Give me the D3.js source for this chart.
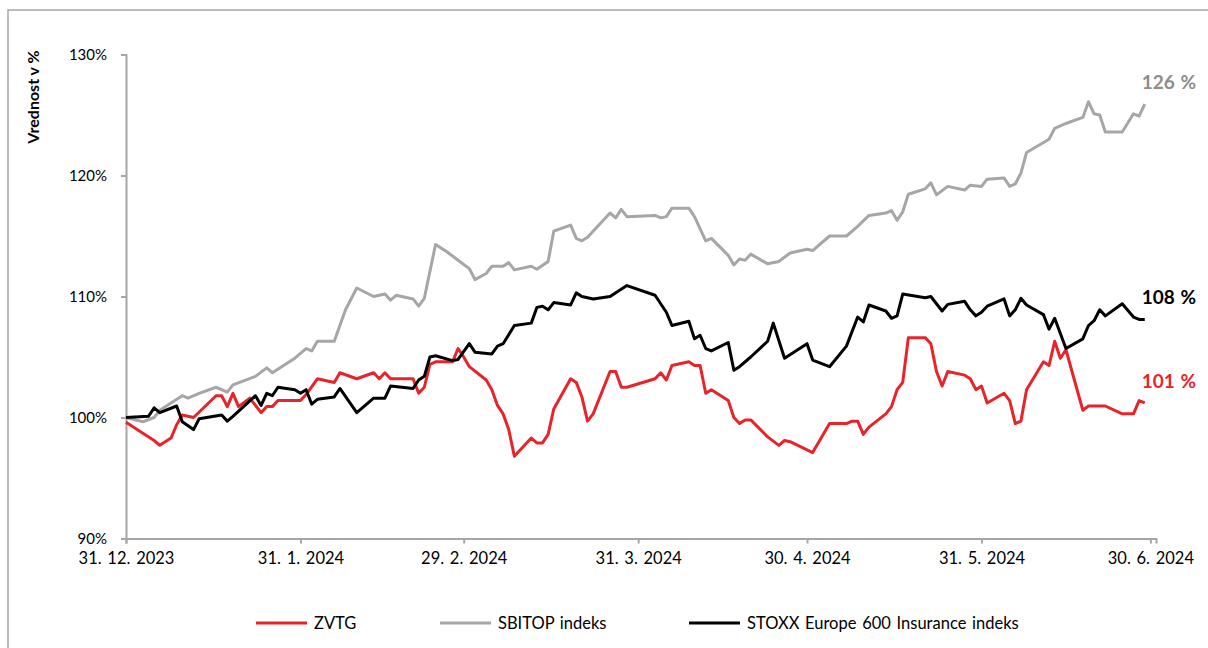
<!DOCTYPE html>
<html>
<head>
<meta charset="utf-8">
<script src="https://cdn.jsdelivr.net/npm/d3@7"></script>
<style>
  body { margin: 0; background: #fff; }
  svg { display: block; font-family: Lato, "Open Sans", sans-serif; }
</style>
</head>
<body>
<svg id="chart" width="1208" height="648"></svg>
<script>
// Values (index, 31.12.2023 = 100 %)
const zvtg = [["2023-12-31",99.6],["2024-01-03",98.7],["2024-01-05",98.1],["2024-01-06",97.7],["2024-01-08",98.3],["2024-01-09",99.4],["2024-01-10",100.2],["2024-01-12",100.0],["2024-01-16",101.8],["2024-01-17",101.8],["2024-01-18",100.9],["2024-01-19",102.0],["2024-01-20",100.9],["2024-01-22",101.6],["2024-01-24",100.4],["2024-01-25",100.9],["2024-01-26",100.9],["2024-01-27",101.4],["2024-01-31",101.4],["2024-02-01",101.9],["2024-02-03",103.2],["2024-02-06",102.9],["2024-02-07",103.7],["2024-02-10",103.2],["2024-02-13",103.7],["2024-02-14",103.2],["2024-02-15",103.7],["2024-02-16",103.2],["2024-02-20",103.2],["2024-02-21",102.0],["2024-02-22",102.5],["2024-02-23",104.4],["2024-02-24",104.6],["2024-02-27",104.6],["2024-02-28",105.7],["2024-02-29",105.0],["2024-03-01",104.2],["2024-03-04",103.1],["2024-03-05",102.3],["2024-03-06",101.0],["2024-03-07",100.3],["2024-03-08",99.0],["2024-03-09",96.8],["2024-03-12",98.3],["2024-03-13",97.9],["2024-03-14",97.9],["2024-03-15",98.6],["2024-03-16",100.7],["2024-03-19",103.2],["2024-03-20",102.9],["2024-03-21",101.7],["2024-03-22",99.7],["2024-03-23",100.3],["2024-03-26",103.8],["2024-03-27",103.8],["2024-03-28",102.5],["2024-03-29",102.5],["2024-04-03",103.2],["2024-04-04",103.7],["2024-04-05",103.1],["2024-04-06",104.3],["2024-04-09",104.6],["2024-04-10",104.3],["2024-04-11",104.3],["2024-04-12",102.0],["2024-04-13",102.3],["2024-04-16",101.4],["2024-04-17",100.0],["2024-04-18",99.5],["2024-04-19",99.8],["2024-04-20",99.8],["2024-04-23",98.4],["2024-04-25",97.7],["2024-04-26",98.1],["2024-04-27",98.0],["2024-05-01",97.1],["2024-05-04",99.5],["2024-05-07",99.5],["2024-05-08",99.7],["2024-05-09",99.7],["2024-05-10",98.6],["2024-05-11",99.2],["2024-05-14",100.3],["2024-05-15",100.9],["2024-05-16",102.3],["2024-05-17",102.9],["2024-05-18",106.6],["2024-05-21",106.6],["2024-05-22",106.1],["2024-05-23",103.8],["2024-05-24",102.6],["2024-05-25",103.8],["2024-05-28",103.5],["2024-05-29",103.2],["2024-05-30",102.3],["2024-05-31",102.6],["2024-06-01",101.2],["2024-06-04",102.0],["2024-06-05",101.4],["2024-06-06",99.5],["2024-06-07",99.7],["2024-06-08",102.3],["2024-06-11",104.6],["2024-06-12",104.3],["2024-06-13",106.3],["2024-06-14",104.9],["2024-06-15",105.6],["2024-06-18",100.6],["2024-06-19",100.95],["2024-06-22",100.95],["2024-06-25",100.3],["2024-06-27",100.3],["2024-06-28",101.4],["2024-06-29",101.2]];

const sbitop = [["2023-12-31",100.0],["2024-01-03",99.65],["2024-01-05",100.0],["2024-01-06",100.6],["2024-01-10",101.8],["2024-01-11",101.6],["2024-01-13",102.0],["2024-01-16",102.5],["2024-01-18",102.1],["2024-01-19",102.7],["2024-01-23",103.4],["2024-01-25",104.1],["2024-01-26",103.7],["2024-01-30",104.9],["2024-02-01",105.7],["2024-02-02",105.5],["2024-02-03",106.3],["2024-02-06",106.3],["2024-02-08",108.9],["2024-02-10",110.7],["2024-02-13",110.0],["2024-02-15",110.2],["2024-02-16",109.7],["2024-02-17",110.1],["2024-02-20",109.8],["2024-02-21",109.2],["2024-02-22",109.85],["2024-02-24",114.3],["2024-02-26",113.7],["2024-02-28",113.0],["2024-03-01",112.3],["2024-03-02",111.4],["2024-03-04",111.9],["2024-03-05",112.5],["2024-03-07",112.5],["2024-03-08",112.8],["2024-03-09",112.2],["2024-03-12",112.5],["2024-03-13",112.25],["2024-03-15",112.9],["2024-03-16",115.4],["2024-03-19",115.9],["2024-03-20",114.8],["2024-03-21",114.6],["2024-03-22",114.9],["2024-03-26",116.9],["2024-03-27",116.5],["2024-03-28",117.2],["2024-03-29",116.6],["2024-04-03",116.7],["2024-04-04",116.5],["2024-04-05",116.6],["2024-04-06",117.3],["2024-04-09",117.3],["2024-04-10",116.6],["2024-04-12",114.6],["2024-04-13",114.8],["2024-04-16",113.4],["2024-04-17",112.6],["2024-04-18",113.1],["2024-04-19",113.0],["2024-04-20",113.5],["2024-04-23",112.7],["2024-04-25",112.9],["2024-04-27",113.6],["2024-04-30",113.9],["2024-05-01",113.8],["2024-05-04",115.0],["2024-05-07",115.0],["2024-05-09",115.8],["2024-05-11",116.7],["2024-05-14",116.9],["2024-05-15",117.1],["2024-05-16",116.3],["2024-05-17",117.0],["2024-05-18",118.45],["2024-05-21",118.9],["2024-05-22",119.4],["2024-05-23",118.4],["2024-05-25",119.1],["2024-05-28",118.8],["2024-05-29",119.2],["2024-05-31",119.1],["2024-06-01",119.7],["2024-06-04",119.8],["2024-06-05",119.1],["2024-06-06",119.3],["2024-06-07",120.2],["2024-06-08",121.9],["2024-06-12",123.0],["2024-06-13",123.9],["2024-06-15",124.3],["2024-06-18",124.8],["2024-06-19",126.1],["2024-06-20",125.1],["2024-06-21",125.0],["2024-06-22",123.6],["2024-06-25",123.6],["2024-06-27",125.1],["2024-06-28",124.9],["2024-06-29",125.9]];

const stoxx = [["2023-12-31",100.0],["2024-01-04",100.1],["2024-01-05",100.8],["2024-01-06",100.4],["2024-01-09",100.95],["2024-01-10",99.65],["2024-01-12",99.0],["2024-01-13",99.9],["2024-01-17",100.2],["2024-01-18",99.7],["2024-01-19",100.1],["2024-01-23",101.8],["2024-01-24",101.0],["2024-01-25",102.0],["2024-01-26",101.8],["2024-01-27",102.5],["2024-01-30",102.3],["2024-01-31",102.0],["2024-02-01",102.3],["2024-02-02",101.1],["2024-02-03",101.5],["2024-02-06",101.7],["2024-02-07",102.4],["2024-02-10",100.4],["2024-02-13",101.6],["2024-02-15",101.6],["2024-02-16",102.6],["2024-02-20",102.4],["2024-02-21",103.1],["2024-02-22",103.4],["2024-02-23",105.0],["2024-02-24",105.1],["2024-02-27",104.7],["2024-02-28",104.8],["2024-03-01",106.1],["2024-03-02",105.4],["2024-03-05",105.25],["2024-03-06",105.9],["2024-03-07",106.1],["2024-03-09",107.6],["2024-03-12",107.8],["2024-03-13",109.1],["2024-03-14",109.2],["2024-03-15",108.9],["2024-03-16",109.5],["2024-03-19",109.3],["2024-03-20",110.3],["2024-03-21",110.0],["2024-03-23",109.8],["2024-03-26",110.0],["2024-03-29",110.9],["2024-04-03",110.1],["2024-04-04",109.4],["2024-04-05",108.7],["2024-04-06",107.6],["2024-04-09",107.95],["2024-04-10",106.5],["2024-04-11",106.8],["2024-04-12",105.7],["2024-04-13",105.5],["2024-04-16",106.2],["2024-04-17",103.9],["2024-04-18",104.2],["2024-04-20",105.0],["2024-04-23",106.3],["2024-04-24",107.8],["2024-04-26",104.9],["2024-04-30",106.1],["2024-05-01",104.75],["2024-05-04",104.2],["2024-05-07",105.9],["2024-05-09",108.3],["2024-05-10",107.9],["2024-05-11",109.3],["2024-05-14",108.8],["2024-05-15",108.2],["2024-05-16",108.4],["2024-05-17",110.2],["2024-05-21",109.9],["2024-05-22",110.0],["2024-05-24",108.8],["2024-05-25",109.35],["2024-05-28",109.6],["2024-05-29",108.9],["2024-05-30",108.4],["2024-05-31",108.7],["2024-06-01",109.2],["2024-06-04",109.8],["2024-06-05",108.4],["2024-06-06",108.9],["2024-06-07",109.85],["2024-06-08",109.3],["2024-06-11",108.5],["2024-06-12",107.3],["2024-06-13",108.2],["2024-06-15",105.7],["2024-06-18",106.5],["2024-06-19",107.6],["2024-06-20",108.0],["2024-06-21",108.9],["2024-06-22",108.4],["2024-06-25",109.4],["2024-06-27",108.3],["2024-06-28",108.1],["2024-06-29",108.1]];

const seriesNames = ["ZVTG", "SBITOP indeks", "STOXX Europe 600 Insurance indeks"];
const xTickDates = ["2023-12-31", "2024-01-31", "2024-02-29", "2024-03-31", "2024-04-30", "2024-05-31", "2024-06-30"];
const yTicks = [90, 100, 110, 120, 130];

const parse = d3.timeParse("%Y-%m-%d");
const svg = d3.select("#chart");

const series = [
    { name: seriesNames[0], data: zvtg, color: "#e8242b", label: "#e8242b" },
    { name: seriesNames[1], data: sbitop, color: "#a6a6a6", label: "#8c8c8c" },
    { name: seriesNames[2], data: stoxx, color: "#000000", label: "#000000" }
];

const x = d3.scaleTime()
    .domain([parse("2023-12-31"), parse("2024-07-01")])
    .range([126, 1156]);

const y = d3.scaleLinear()
    .domain([90, 130])
    .range([538.5, 54.5]);

// outer frame (only left and top edges are visible in the picture)
svg.append("path")
    .attr("d", "M8,648 V10 H1208")
    .attr("fill", "none")
    .attr("stroke", "#a6a6a6")
    .attr("stroke-width", 1.5);

// y axis
const yAxis = svg.append("g")
    .attr("transform", "translate(126,0)")
    .call(d3.axisLeft(y).tickValues(yTicks).tickSize(5).tickPadding(14).tickFormat(d => d + "%"));

// x axis
const xAxis = svg.append("g")
    .attr("transform", `translate(0,${y(90)})`)
    .call(d3.axisBottom(x).tickValues(xTickDates.map(parse)).tickSize(5).tickPadding(9)
        .tickFormat(d3.timeFormat("%-d. %-m. %Y")));

[yAxis, xAxis].forEach(ax => {
    ax.select(".domain").attr("stroke", "#a6a6a6").attr("stroke-width", 2);
    ax.selectAll(".tick line").attr("stroke", "#a6a6a6").attr("stroke-width", 2);
    ax.selectAll(".tick text")
        .attr("fill", "#000")
        .style("font-family", "Lato, sans-serif")
        .style("font-size", "15px");
});
xAxis.selectAll(".tick text")
    .style("font-size", "16.5px")
    .style("word-spacing", "1.5px");

svg.append("text")
    .attr("transform", "translate(39,97) rotate(-90)")
    .attr("text-anchor", "middle")
    .style("font-size", "16px")
    .style("font-weight", "bold")
    .text("Vrednost v %");

const line = d3.line()
    .x(d => x(parse(d[0])))
    .y(d => y(d[1]));

// draw gray first, then red, black on top
[series[1], series[0], series[2]].forEach(s => {
    svg.append("path")
        .datum(s.data)
        .attr("fill", "none")
        .attr("stroke", s.color)
        .attr("stroke-width", 3)
        .attr("stroke-linejoin", "round")
        .attr("d", line);
});

// end-value labels
series.forEach(s => {
    const last = s.data[s.data.length - 1];
    svg.append("text")
        .attr("x", x(parse(last[0])) - 3)
        .attr("y", y(last[1]) - 15)
        .attr("fill", s.label)
        .style("font-size", "19px")
        .style("font-weight", "bold")
        .style("word-spacing", "1px")
        .text(Math.round(last[1]) + " %");
});

// legend
const legendX = [256, 440, 689];
const legend = svg.append("g").attr("transform", "translate(0,623)");
series.forEach((s, i) => {
    const g = legend.append("g").attr("transform", `translate(${legendX[i]},0)`);
    g.append("line")
        .attr("x1", 0).attr("x2", 51)
        .attr("stroke", s.color)
        .attr("stroke-width", 3);
    g.append("text")
        .attr("x", 58)
        .attr("dy", "0.35em")
        .style("font-size", "16.5px")
        .style("word-spacing", "1.5px")
        .text(s.name);
});
</script>
</body>
</html>
